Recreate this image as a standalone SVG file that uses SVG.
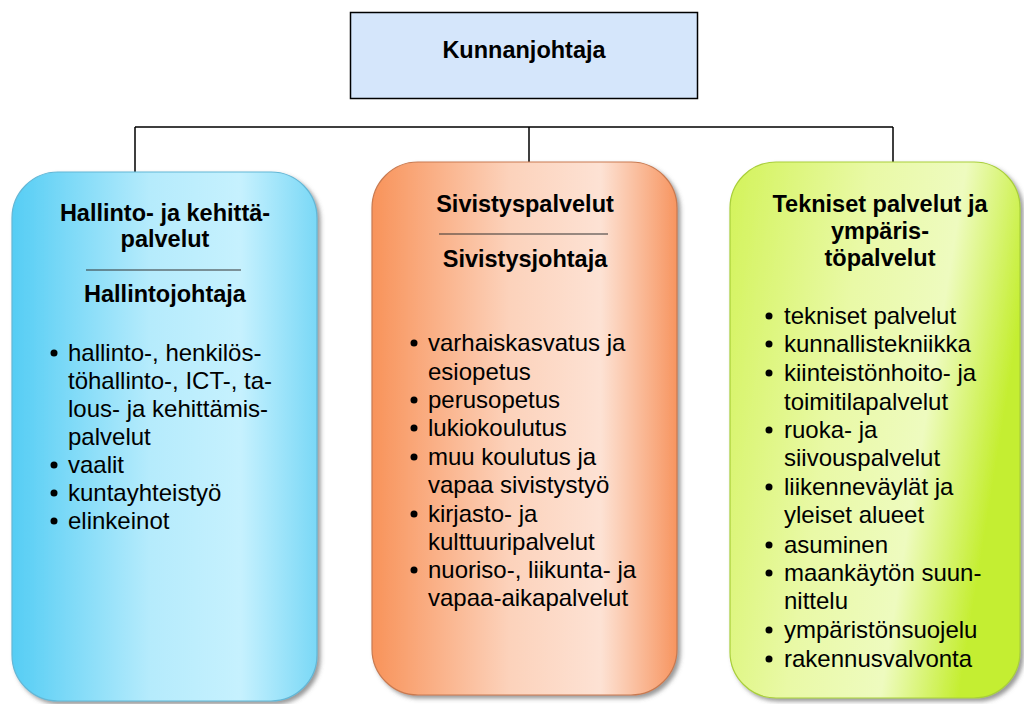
<svg xmlns="http://www.w3.org/2000/svg" width="1024" height="704" viewBox="0 0 1024 704">
<defs>
<style>
.t{font-family:"Liberation Sans",Arial,sans-serif;fill:#000}
.h{font-size:23.5px;font-weight:bold;text-anchor:middle}
.b{font-size:24px}
.conn{stroke:#000;stroke-width:1.5;fill:none}
.sep{stroke:#333;stroke-width:1.2}
</style>
<filter id="sh" x="-10%" y="-10%" width="120%" height="120%">
<feDropShadow dx="3" dy="3" stdDeviation="2" flood-color="#555" flood-opacity="0.6"/>
</filter>
<linearGradient id="gBlue" x1="0" y1="0" x2="1" y2="0">
<stop offset="0" stop-color="#55cdf4"/>
<stop offset="0.45" stop-color="#b5ebfc"/>
<stop offset="0.75" stop-color="#c6f1fe"/>
<stop offset="1" stop-color="#7ad8f6"/>
</linearGradient>
<linearGradient id="gOrange" x1="0" y1="0" x2="1" y2="0">
<stop offset="0" stop-color="#f8935a"/>
<stop offset="0.45" stop-color="#fcd2bb"/>
<stop offset="0.75" stop-color="#fde2d4"/>
<stop offset="1" stop-color="#f79560"/>
</linearGradient>
<linearGradient id="gGreen" x1="0" y1="0" x2="1" y2="0.3">
<stop offset="0" stop-color="#d3f35a"/>
<stop offset="0.45" stop-color="#e9f9a6"/>
<stop offset="0.75" stop-color="#eefbbf"/>
<stop offset="1" stop-color="#c4ee30"/>
</linearGradient>
</defs>
<rect width="1024" height="704" fill="#fff"/>

<g id="connectors">
<path class="conn" d="M135 127 H893 M135 127 V172 M529 127 V162 M893 127 V162"/>
</g>

<g id="kunnanjohtaja">
<rect x="350.5" y="12.5" width="347" height="86" fill="#d5e6fb" stroke="#000" stroke-width="1.5"/>
<text class="t h" x="524" y="58">Kunnanjohtaja</text>
</g>

<g id="hallinto">
<rect x="12" y="172" width="305" height="529" rx="46" fill="url(#gBlue)" stroke="#63b7d6" stroke-width="1.2" filter="url(#sh)"/>
<text class="t h" x="165" y="221">Hallinto- ja kehittä-</text>
<text class="t h" x="165" y="247">palvelut</text>
<line class="sep" x1="86" y1="270" x2="241" y2="270"/>
<text class="t h" x="165" y="302">Hallintojohtaja</text>
<g fill="#000">
<circle cx="54" cy="353" r="3.5"/>
<circle cx="54" cy="465" r="3.5"/>
<circle cx="54" cy="493" r="3.5"/>
<circle cx="54" cy="521" r="3.5"/>
</g>
<text class="t b" x="68" y="361">hallinto-, henkilös-</text>
<text class="t b" x="68" y="389">töhallinto-, ICT-, ta-</text>
<text class="t b" x="68" y="417">lous- ja kehittämis-</text>
<text class="t b" x="68" y="445">palvelut</text>
<text class="t b" x="68" y="473">vaalit</text>
<text class="t b" x="68" y="501">kuntayhteistyö</text>
<text class="t b" x="68" y="529">elinkeinot</text>
</g>

<g id="sivistys">
<rect x="372" y="162" width="305" height="533" rx="46" fill="url(#gOrange)" stroke="#c97a50" stroke-width="1.2" filter="url(#sh)"/>
<text class="t h" x="525" y="212">Sivistyspalvelut</text>
<line class="sep" x1="439" y1="234" x2="608" y2="234"/>
<text class="t h" x="525" y="267">Sivistysjohtaja</text>
<g fill="#000">
<circle cx="414" cy="343" r="3.5"/>
<circle cx="414" cy="400" r="3.5"/>
<circle cx="414" cy="428" r="3.5"/>
<circle cx="414" cy="457" r="3.5"/>
<circle cx="414" cy="514" r="3.5"/>
<circle cx="414" cy="570" r="3.5"/>
</g>
<text class="t b" x="428" y="351">varhaiskasvatus ja</text>
<text class="t b" x="428" y="380">esiopetus</text>
<text class="t b" x="428" y="408">perusopetus</text>
<text class="t b" x="428" y="436">lukiokoulutus</text>
<text class="t b" x="428" y="465">muu koulutus ja</text>
<text class="t b" x="428" y="493">vapaa sivistystyö</text>
<text class="t b" x="428" y="522">kirjasto- ja</text>
<text class="t b" x="428" y="550">kulttuuripalvelut</text>
<text class="t b" x="428" y="578">nuoriso-, liikunta- ja</text>
<text class="t b" x="428" y="606">vapaa-aikapalvelut</text>
</g>

<g id="tekniset">
<rect x="730" y="162" width="290" height="536" rx="46" fill="url(#gGreen)" stroke="#a9cf3a" stroke-width="1.2" filter="url(#sh)"/>
<text class="t h" x="880" y="212">Tekniset palvelut ja</text>
<text class="t h" x="880" y="239">ympäris-</text>
<text class="t h" x="880" y="266">töpalvelut</text>
<g fill="#000">
<circle cx="769" cy="316" r="3.5"/>
<circle cx="769" cy="344" r="3.5"/>
<circle cx="769" cy="373" r="3.5"/>
<circle cx="769" cy="430" r="3.5"/>
<circle cx="769" cy="487" r="3.5"/>
<circle cx="769" cy="545" r="3.5"/>
<circle cx="769" cy="573" r="3.5"/>
<circle cx="769" cy="630" r="3.5"/>
<circle cx="769" cy="659" r="3.5"/>
</g>
<text class="t b" x="784" y="324">tekniset palvelut</text>
<text class="t b" x="784" y="352">kunnallistekniikka</text>
<text class="t b" x="784" y="381">kiinteistönhoito- ja</text>
<text class="t b" x="784" y="410">toimitilapalvelut</text>
<text class="t b" x="784" y="438">ruoka- ja</text>
<text class="t b" x="784" y="466">siivouspalvelut</text>
<text class="t b" x="784" y="495">liikenneväylät ja</text>
<text class="t b" x="784" y="523">yleiset alueet</text>
<text class="t b" x="784" y="553">asuminen</text>
<text class="t b" x="784" y="581">maankäytön suun-</text>
<text class="t b" x="784" y="609">nittelu</text>
<text class="t b" x="784" y="638">ympäristönsuojelu</text>
<text class="t b" x="784" y="667">rakennusvalvonta</text>
</g>
</svg>
